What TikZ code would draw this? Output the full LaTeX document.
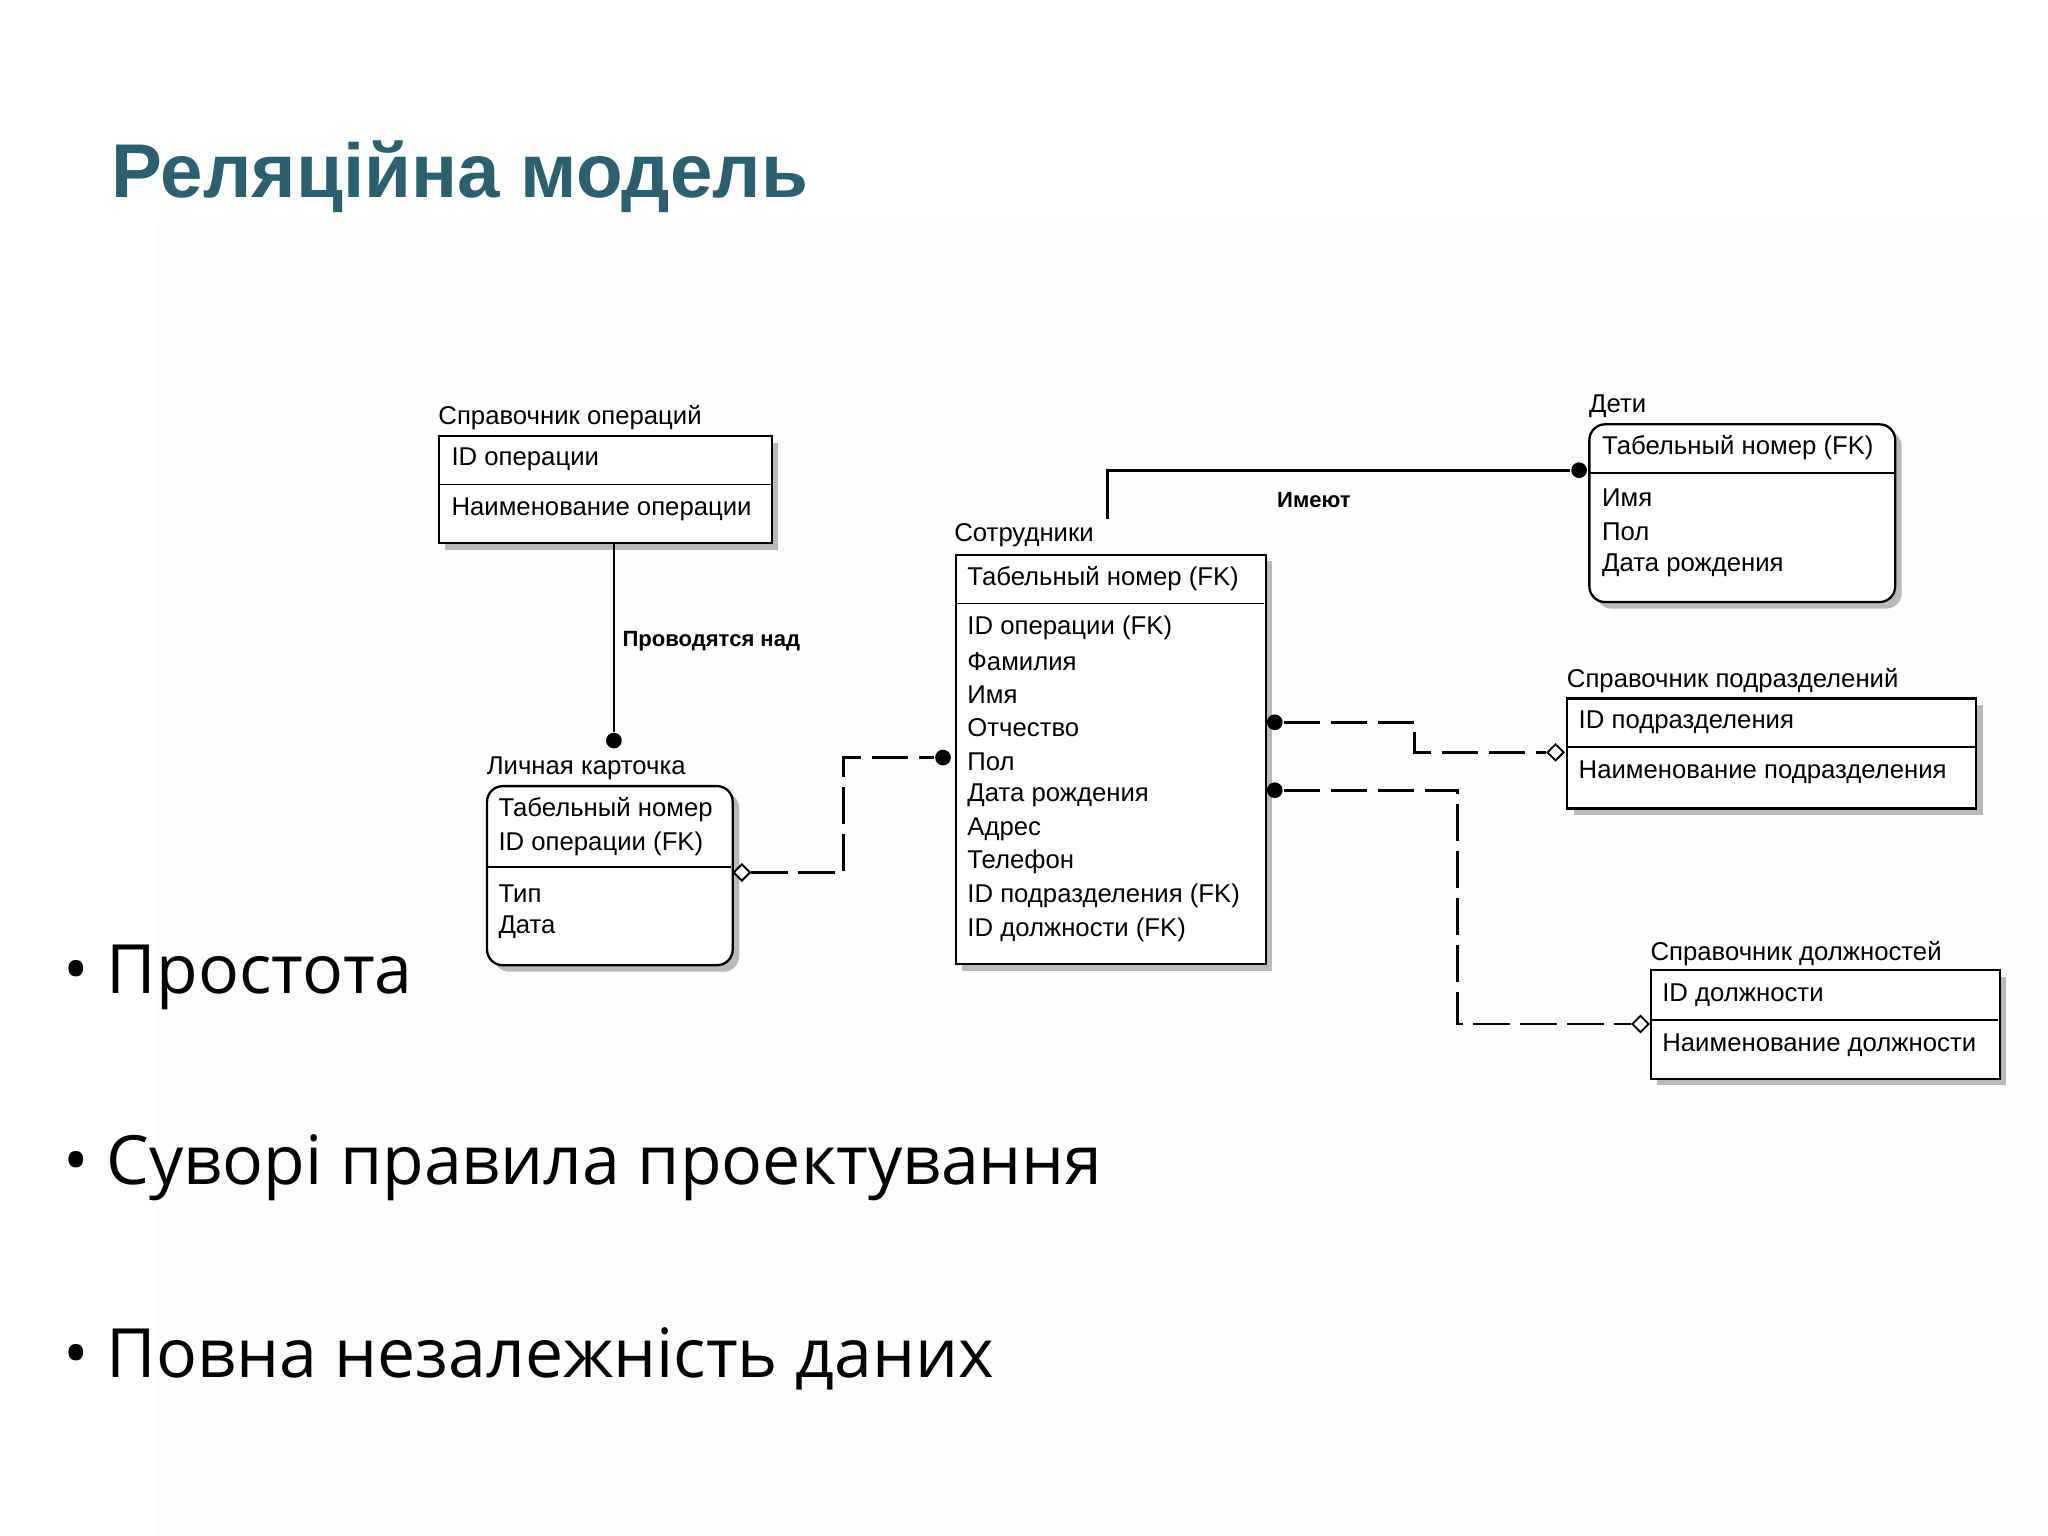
\documentclass[tikz,border=0pt]{standalone}
\usepackage{fontspec}
\setmainfont{Liberation Sans}
\newfontfamily\bul{Open Sans}
\usetikzlibrary{shadows,shapes.geometric}
\definecolor{titlec}{HTML}{2A6170}
\begin{document}
\begin{tikzpicture}[x=0.01cm,y=-0.01cm,
  ent/.style={draw=black,line width=0.5pt,fill=white,anchor=north west,inner sep=0pt,
    drop shadow={shadow xshift=0.05cm,shadow yshift=-0.05cm,fill=gray!55,opacity=1}},
  lab/.style={anchor=west,font=\fontsize{5.6}{7}\selectfont,inner sep=0pt},
  rel/.style={line width=0.6pt},
  dsh/.style={line width=0.6pt,dash pattern=on 0.28cm off 0.08cm},
  dot/.style={circle,fill=black,inner sep=0pt,minimum size=0.12cm},
  dia/.style={draw=black,fill=white,diamond,inner sep=0pt,minimum size=0.13cm,line width=0.4pt},
  bl/.style={anchor=west,font=\bul\fontsize{14.8}{18}\selectfont,inner sep=0pt}]
\useasboundingbox (0,0) rectangle (1568,1176);
\fill[white] (0,0) rectangle (1568,1176);
\fill[black!0.6] (120,170) rectangle (1568,1176);
\node[anchor=west,inner sep=0pt,text=titlec,font=\bfseries\fontsize{16.6}{20}\selectfont] (title) at (85,135) {Реляційна модель};
% Entities
\node[ent,minimum width=2.55cm,minimum height=0.82cm] (so) at (335,333) {};
\draw (335,371) -- (590,371);
\node[lab] (so-l) at (335,320) {Справочник операций};
\node[lab] (so-1) at (345,352) {ID операции};
\node[lab] (so-2) at (345,390) {Наименование операции};

\node[ent,rounded corners=0.12cm,minimum width=1.88cm,minimum height=1.37cm] (lk) at (372,601) {};
\draw (372,664) -- (560,664);
\node[lab] (lk-l) at (372,588) {Личная карточка};
\node[lab] (lk-1) at (381,620) {Табельный номер};
\node[lab] (lk-2) at (381,646) {ID операции (FK)};
\node[lab] (lk-3) at (381,684) {Тип};
\node[lab] (lk-4) at (381,710) {Дата};

\node[ent,minimum width=2.37cm,minimum height=3.13cm] (sot) at (731,424) {};
\draw (731,462) -- (968,462);
\node[lab] (sot-l) at (730,410) {Сотрудники};
\node[lab] at (740,443) {Табельный номер (FK)};
\node[lab] at (740,481) {ID операции (FK)};
\node[lab] at (740,507) {Фамилия};
\node[lab] at (740,532) {Имя};
\node[lab] at (740,557) {Отчество};
\node[lab] at (740,583) {Пол};
\node[lab] at (740,609) {Дата рождения};
\node[lab] at (740,635) {Адрес};
\node[lab] at (740,660) {Телефон};
\node[lab] at (740,686) {ID подразделения (FK)};
\node[lab] at (740,712) {ID должности (FK)};

\node[ent,rounded corners=0.12cm,minimum width=2.34cm,minimum height=1.36cm] (det) at (1216,324) {};
\draw (1216,362) -- (1450,362);
\node[lab] at (1216,311) {Дети};
\node[lab] at (1226,343) {Табельный номер (FK)};
\node[lab] at (1226,381) {Имя};
\node[lab] at (1226,407) {Пол};
\node[lab] at (1226,433) {Дата рождения};

\node[ent,minimum width=3.13cm,minimum height=0.84cm] (sp) at (1199,534) {};
\draw (1199,572) -- (1512,572);
\node[lab] at (1199,521) {Справочник подразделений};
\node[lab] at (1208,553) {ID подразделения};
\node[lab] at (1208,591) {Наименование подразделения};

\node[ent,minimum width=2.67cm,minimum height=0.83cm] (sd) at (1263,742) {};
\draw (1263,781) -- (1530,781);
\node[lab] at (1263,730) {Справочник должностей};
\node[lab] at (1272,762) {ID должности};
\node[lab] at (1272,800) {Наименование должности};
% connectors
\coordinate (a1) at (470,415);
\node[dot] (a2) at (470,567) {};
\draw[rel] (a1) -- (a2);
\node[anchor=west,inner sep=0pt,font=\bfseries\fontsize{4.8}{6}\selectfont] (al) at (476,491) {Проводятся над};

\node[dia] (b1) at (568,668) {};
\node[dot] (b2) at (722,580) {};
\draw[dsh] (b1) -- (646,668) -- (646,580) -- (b2);

\coordinate (c1) at (848,397);
\node[dot] (c2) at (1209,360) {};
\draw[rel] (c1) -- (848,360) -- (c2);
\node[anchor=center,inner sep=0pt,font=\bfseries\fontsize{4.8}{6}\selectfont] (cl) at (1006,383) {Имеют};

\node[dot] (d1) at (976,553) {};
\node[dia] (d2) at (1191,576) {};
\draw[dsh] (d1) -- (1083,553) -- (1083,576) -- (d2);

\node[dot] (e1) at (976,605) {};
\node[dia] (e2) at (1256,784) {};
\draw[dsh] (e1) -- (1116,605) -- (1116,784) -- (e2);
% bullets
\node[bl] (p1) at (48,748) {• Простота};
\node[bl] (p2) at (48,894) {• Суворі правила проектування};
\node[bl] (p3) at (48,1040) {• Повна незалежність даних};
\end{tikzpicture}
\end{document}
